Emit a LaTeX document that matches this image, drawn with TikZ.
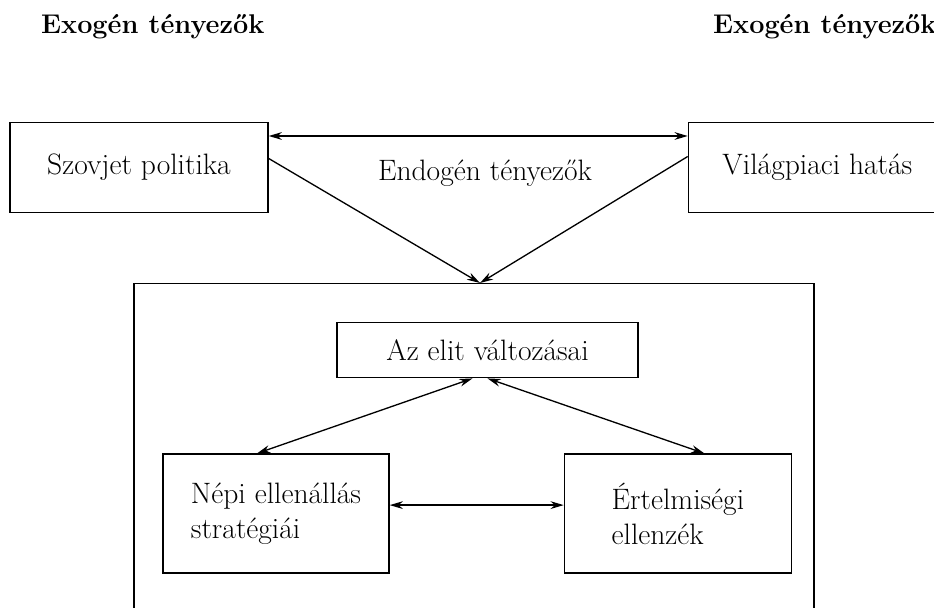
\documentclass[tikz,border=0pt]{standalone}
\usetikzlibrary{arrows.meta,positioning}

\begin{document}
\begin{tikzpicture}[
            mybox/.style={
            rectangle,
            draw=black,
            line width=0.8pt,
            inner sep=2pt,
            align=left,
            font=\fontsize{16.8}{20}\selectfont},
        mytitle/.style={
            anchor=base west,
            font=\fontsize{15.4}{18}\selectfont\bfseries},
        >={Stealth[length=7.5pt,width=4.4pt]},
        myarrow/.style={->,line width=0.75pt},
        mybiarrow/.style={<->,line width=0.75pt}
        ]
        \useasboundingbox (0,0) rectangle (18.68,-12.16);

        \node[mytitle] (exo1) at (0.7,-0.68) {Exogén tényezők};
        \node[mytitle] (exo2) at (14.14,-0.68) {Exogén tényezők};

        \node[mybox,minimum width=5.16cm,minimum height=1.8cm] (szov) at (2.78,-3.35) {Szovjet politika};
        \node[mybox,minimum width=5.16cm,minimum height=1.8cm,right=8.38cm of szov] (vil) {Világpiaci hatás};
        \node[font=\fontsize{16.8}{20}\selectfont] (endolab) at (9.7,-3.46) {Endogén tényezők};

        \node[mybox,minimum width=13.6cm,minimum height=7.2cm,anchor=north] (endo) at (9.48,-5.66) {};
        \node[mybox,minimum width=6.02cm,minimum height=1.1cm,below=0.78cm of endo.north,xshift=0.27cm] (elit) {Az elit változásai};
        \node[mybox,minimum width=4.52cm,minimum height=2.38cm,below=1.5cm of elit,xshift=-4.23cm] (nepi) {Népi ellenállás\\stratégiái};
        \node[mybox,minimum width=4.54cm,minimum height=2.38cm,right=3.48cm of nepi] (ert) {Értelmiségi\\ellenzék};

        % exogen -> endogen
        \draw[mybiarrow] ([yshift=0.63cm]szov.east) -- ([yshift=0.63cm]vil.west);
        \draw[myarrow] ([yshift=0.18cm]szov.east) -- ([xshift=0.12cm]endo.north);
        \draw[myarrow] ([yshift=0.22cm]vil.west) -- ([xshift=0.12cm]endo.north);

        % inside the frame
        \draw[mybiarrow] ([xshift=-0.3cm]elit.south) -- ([xshift=-0.38cm]nepi.north);
        \draw[mybiarrow] ([xshift=0.0cm]elit.south) -- ([xshift=0.53cm]ert.north);
        \draw[mybiarrow] ([yshift=0.17cm]nepi.east) -- ([yshift=0.17cm]ert.west);
        \end{tikzpicture}
\end{document}
